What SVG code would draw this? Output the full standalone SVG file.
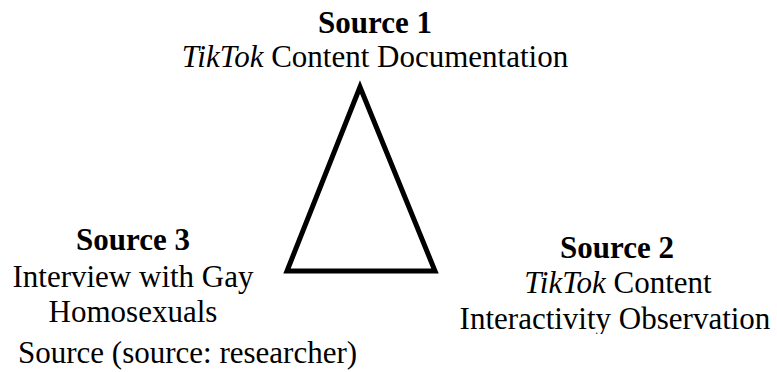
<svg xmlns="http://www.w3.org/2000/svg" width="777" height="372" viewBox="0 0 777 372">
<style>
.lbl{font-family:'Liberation Serif',serif;font-size:31px;fill:#000}
.ttl{font-weight:bold}
.mid{text-anchor:middle}
.ital{font-style:italic}
.tri{fill:none;stroke:#000;stroke-width:5;stroke-linejoin:miter}
</style>
<defs>
<clipPath id="clip2"><rect x="440" y="300" width="337" height="34"/></clipPath>
</defs>
<rect width="777" height="372" fill="#fff"/>
<g id="triangle">
<polygon class="tri" points="360,87 287,271 435,271"/>
</g>
<g id="source1">
<text class="lbl ttl mid" x="375" y="33">Source 1</text>
<text class="lbl mid" x="375" y="67"><tspan class="ital">TikTok</tspan> Content Documentation</text>
</g>
<g id="source3">
<text class="lbl ttl mid" x="133" y="250">Source 3</text>
<text class="lbl mid" x="133" y="287">Interview with Gay</text>
<text class="lbl mid" x="133" y="322">Homosexuals</text>
</g>
<g id="source2">
<text class="lbl ttl mid" x="617" y="258">Source 2</text>
<text class="lbl mid" x="618" y="293"><tspan class="ital">TikTok</tspan> Content</text>
<text class="lbl mid" x="615" y="329" clip-path="url(#clip2)">Interactivity Observation</text>
</g>
<g id="caption">
<text class="lbl" x="18" y="363">Source (source: researcher)</text>
</g>
</svg>
